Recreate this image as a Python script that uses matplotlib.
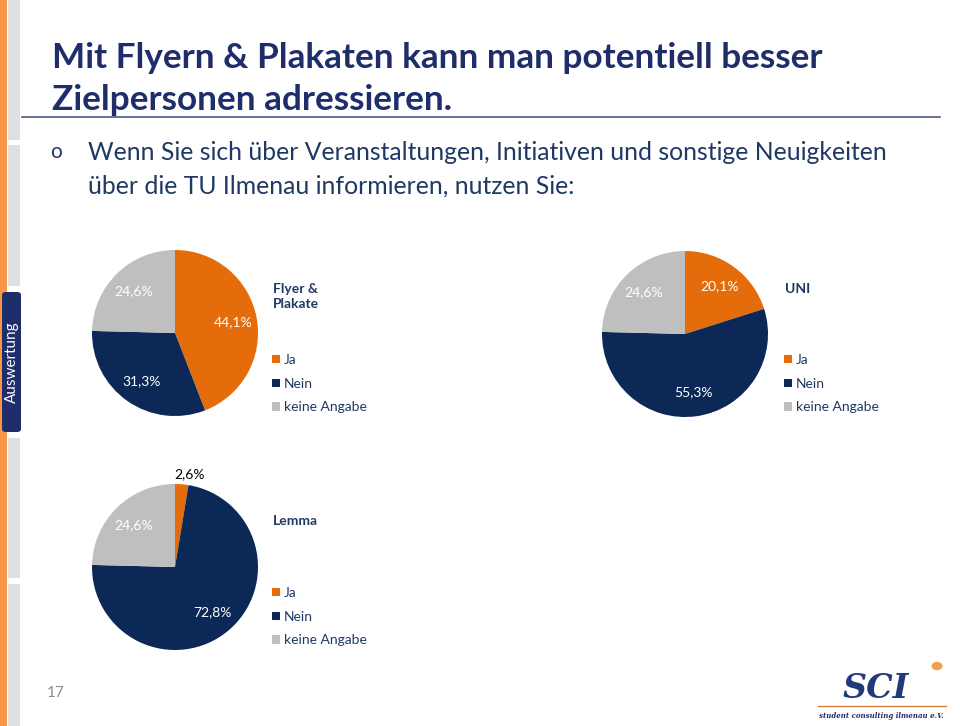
import matplotlib
matplotlib.use('agg')
import matplotlib.pyplot as plt
from matplotlib.patches import Rectangle, FancyBboxPatch, Circle
from matplotlib.lines import Line2D
import numpy as np

plt.rcParams['font.family'] = ['Lato', 'DejaVu Sans']

# data
answers = ['Ja', 'Nein', 'keine Angabe']
flyer = [44.1, 31.3, 24.6]
uni = [20.1, 55.3, 24.6]
lemma = [2.6, 72.8, 24.6]
titles = ['Flyer &\nPlakate', 'UNI', 'Lemma']

colors = ['#E46C0A', '#0C2857', '#BFBFBF']
navy = '#1F2D6B'
textnavy = '#1F3864'

W, H = 960, 726
fig = plt.figure(figsize=(W / 100, H / 100), dpi=100)


def fx(x):
    return x / W


def fy(y):
    return 1 - y / H


# sidebar
fig.add_artist(Rectangle((0, 0), fx(7), 1, transform=fig.transFigure,
                         color='#F79646', lw=0))
for top, bot in [(0, 140), (145, 286), (438, 578), (584, 726)]:
    fig.add_artist(Rectangle((fx(8), fy(bot)), fx(12), (bot - top) / H,
                             transform=fig.transFigure, color='#E0E0E0', lw=0))
fig.add_artist(FancyBboxPatch((fx(2), fy(432)), fx(19), 140 / H,
                              boxstyle='round,pad=0,rounding_size=0.004',
                              transform=fig.transFigure, color='#1F2D6B', lw=0))
fig.text(fx(12), fy(362), 'Auswertung', rotation=90, color='white',
         fontsize=11, ha='center', va='center')

# title
fig.text(fx(52), fy(58), 'Mit Flyern & Plakaten kann man potentiell besser',
         fontsize=25.3, fontweight='bold', color=navy, va='center')
fig.text(fx(52), fy(100), 'Zielpersonen adressieren.',
         fontsize=25.3, fontweight='bold', color=navy, va='center')
fig.add_artist(Line2D([fx(22), fx(940)], [fy(117), fy(117)],
                      transform=fig.transFigure, color='#4A5A80', lw=1.2))

# subtitle
fig.text(fx(50), fy(152), 'o', fontsize=15, color=textnavy, va='center')
fig.text(fx(88), fy(152),
         'Wenn Sie sich über Veranstaltungen, Initiativen und sonstige Neuigkeiten',
         fontsize=17.8, color=textnavy, va='center')
fig.text(fx(88), fy(186), 'über die TU Ilmenau informieren, nutzen Sie:',
         fontsize=17.8, color=textnavy, va='center')


def pct(p):
    return ('%.1f%%' % p).replace('.', ',')


def draw_pie(vals, title, cx, cy, r, lx, title_y, leg_y):
    ax = fig.add_axes([fx(cx - r), fy(cy + r), 2 * r / W, 2 * r / H])
    wedges, texts, autotexts = ax.pie(vals, colors=colors, startangle=90,
                                      counterclock=False, autopct=pct,
                                      pctdistance=0.71,
                                      wedgeprops=dict(linewidth=0),
                                      textprops=dict(color='white', fontsize=10))
    ax.set_xlim(-1, 1)
    ax.set_ylim(-1, 1)
    for w, t, v in zip(wedges, autotexts, vals):
        if v < 5:
            ang = np.deg2rad((w.theta1 + w.theta2) / 2)
            t.set_position((0.08 + 1.12 * np.cos(ang), 1.12 * np.sin(ang)))
            t.set_color('black')
        t.set_clip_on(False)
    fig.text(fx(lx), fy(title_y), title, fontsize=10, fontweight='bold',
             color=textnavy, va='top', linespacing=1.3)
    leg = ax.legend(wedges, answers, loc='upper left', frameon=False,
                    bbox_to_anchor=(fx(lx - 1), fy(leg_y)),
                    bbox_transform=fig.transFigure, borderpad=0,
                    borderaxespad=0, handlelength=0.55, handleheight=0.55,
                    handletextpad=0.3, labelspacing=0.84, fontsize=10)
    for t in leg.get_texts():
        t.set_color(textnavy)
    return ax


draw_pie(flyer, titles[0], 175, 333, 83, 273, 283, 354)
draw_pie(uni, titles[1], 685, 334, 83, 785, 283, 354)
draw_pie(lemma, titles[2], 175, 567, 83, 273, 515, 587)

# page number
fig.text(fx(47), fy(693), '17', fontsize=11, color='#8C8C8C', va='center')

# logo
fig.text(fx(876), fy(688), 'SCI', fontsize=24, fontweight='bold',
         fontstyle='italic', family='DejaVu Serif', color='#1F3B7A',
         ha='center', va='center')
fig.add_artist(Circle((fx(937), fy(666)), 5.5 / W, transform=fig.transFigure,
                      color='#F0A050', lw=0))
fig.add_artist(Line2D([fx(818), fx(946)], [fy(706), fy(706)],
                      transform=fig.transFigure, color='#D08040', lw=1))
fig.text(fx(881), fy(716), 'student consulting ilmenau e.V.', fontsize=5,
         fontweight='bold', fontstyle='italic', family='DejaVu Serif',
         color='#1F2D6B', ha='center', va='center')

fig.savefig('out.png', dpi=100)
